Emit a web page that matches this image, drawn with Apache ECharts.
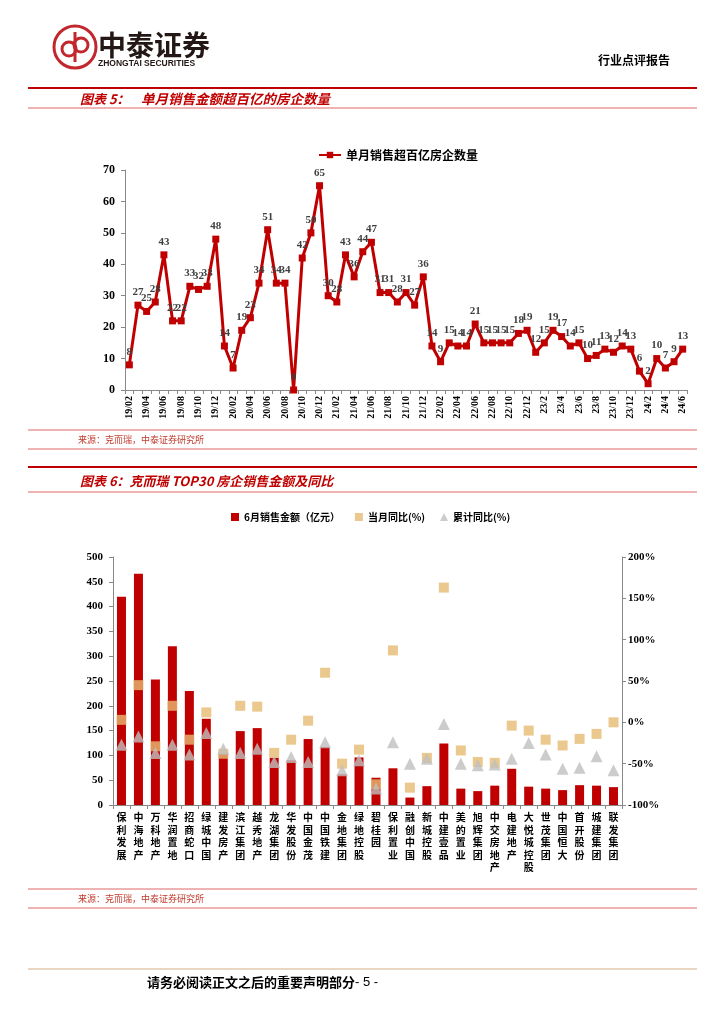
<!DOCTYPE html>
<html><head><meta charset="utf-8">
<script src="https://cdn.jsdelivr.net/npm/echarts@6/dist/echarts.min.js"></script>
<style>html,body{margin:0;padding:0;background:#fff}#c{width:724px;height:1024px}</style>
</head><body><div id="c"></div>
<script>
// ---------- Data: chart 5 ----------
const months = ["19/02","19/03","19/04","19/05","19/06","19/07","19/08","19/09","19/10","19/11","19/12",
"20/01","20/02","20/03","20/04","20/05","20/06","20/07","20/08","20/09","20/10","20/11","20/12",
"21/01","21/02","21/03","21/04","21/05","21/06","21/07","21/08","21/09","21/10","21/11","21/12",
"22/01","22/02","22/03","22/04","22/05","22/06","22/07","22/08","22/09","22/10","22/11","22/12",
"23/1","23/2","23/3","23/4","23/5","23/6","23/7","23/8","23/9","23/10","23/11","23/12",
"24/1","24/2","24/3","24/4","24/5","24/6"];
const countOver100 = [8,27,25,28,43,22,22,33,32,33,48,
14,7,19,23,34,51,34,34,0,42,50,65,
30,28,43,36,44,47,31,31,28,31,27,36,
14,9,15,14,14,21,15,15,15,15,18,19,
12,15,19,17,14,15,10,11,13,12,14,13,
6,2,10,7,9,13];
const seriesName5 = "单月销售超百亿房企数量";

// ---------- Data: chart 6 ----------
const companies = ["保利发展","中海地产","万科地产","华润置地","招商蛇口","绿城中国","建发房产","滨江集团","越秀地产","龙湖集团",
"华发股份","中国金茂","中国铁建","金地集团","绿地控股","碧桂园","保利置业","融创中国","新城控股","中建壹品",
"美的置业","旭辉集团","中交房地产","电建地产","大悦城控股","世茂集团","中国恒大","首开股份","城建集团","联发集团"];
const sales = [420,466,253,320,230,174,103,149,155,95,
90,133,117,62,96,55,74,15,38,124,
33,28,39,73,37,33,30,40,39,36];
const monthYoY = [3,45,-29,20,-21,12,-38,20,19,-37,
-21,2,60,-50,-33,-75,87,-79,-43,163,
-34,-48,-49,-4,-10,-21,-28,-20,-14,0];
const cumYoY = [-27,-17,-37,-27,-39,-13,-32,-37,-32,-48,
-42,-48,-24,-58,-46,-80,-24,-50,-44,-2,
-50,-52,-51,-44,-25,-39,-56,-55,-41,-58];
const names6 = ["6月销售金额（亿元）","当月同比(%)","累计同比(%)"];

const RED = "#C00000", TAN = "#E6BA72", GRAY = "#BFBFBF";
const SERIF = "'Liberation Serif','Times New Roman',serif";
const CJK = "'Noto Sans CJK SC','Noto Sans',sans-serif";
const numFont = {fontFamily: SERIF, fontWeight: "bold", color: "#000"};

const chart = echarts.init(document.getElementById("c"), null, {renderer: "canvas"});

function hline(y, x1, x2, color, w) {
  return {type: "line", shape: {x1: x1, y1: y, x2: x2, y2: y}, style: {stroke: color, lineWidth: w}, silent: true};
}
function txt(x, y, s, font, color) {
  return {type: "text", x: x, y: y, silent: true,
    style: {text: s, font: font, fill: color, textVerticalAlign: "middle"}};
}

const graphics = [
  // logo
  {type: "circle", shape: {cx: 75, cy: 47, r: 21}, style: {fill: "none", stroke: "#C1272D", lineWidth: 3}},
  {type: "circle", shape: {cx: 69, cy: 49, r: 7}, style: {fill: "none", stroke: "#C1272D", lineWidth: 3}},
  {type: "circle", shape: {cx: 81, cy: 45, r: 7}, style: {fill: "none", stroke: "#C1272D", lineWidth: 3}},
  {type: "line", shape: {x1: 75, y1: 32, x2: 75, y2: 62}, style: {stroke: "#C1272D", lineWidth: 3}},
  txt(98, 45, "中泰证券", "bold 28px " + CJK, "#231815"),
  txt(98, 64, "ZHONGTAI SECURITIES", "bold 8.5px 'Liberation Sans',Arial,sans-serif", "#231815"),
  txt(598, 60, "行业点评报告", "bold 12px " + CJK, "#000"),
  // title 5
  hline(88, 28, 697, "#C00000", 2),
  txt(80, 99, "图表 5：", "italic bold 13px " + CJK, "#C00000"),
  txt(141, 99, "单月销售金额超百亿的房企数量", "italic bold 13.5px " + CJK, "#C00000"),
  hline(108, 28, 697, "#E06666", 1),
  // source 5
  hline(430, 28, 697, "#E06666", 1),
  txt(78, 440, "来源：克而瑞，中泰证券研究所", "9px " + CJK, "#C0392B"),
  hline(449, 28, 697, "#E06666", 1),
  // title 6
  hline(467, 28, 697, "#C00000", 2),
  txt(80, 481, "图表 6：克而瑞 TOP30 房企销售金额及同比", "italic bold 13px " + CJK, "#C00000"),
  hline(492, 28, 697, "#E06666", 1),
  // source 6
  hline(889, 28, 697, "#E06666", 1),
  txt(78, 899, "来源：克而瑞，中泰证券研究所", "9px " + CJK, "#C0392B"),
  hline(908, 28, 697, "#E06666", 1),
  // footer
  hline(969, 28, 697, "#E9D6C2", 2),
  txt(147, 982, "请务必阅读正文之后的重要声明部分", "bold 13px " + CJK, "#000"),
  txt(355, 982, "- 5 -", "13px 'Liberation Sans',Arial,sans-serif", "#000")
];

const option = {
  animation: false,
  backgroundColor: "#fff",
  textStyle: {fontFamily: SERIF},
  graphic: graphics,
  legend: [
    {data: [seriesName5], left: 313, top: 144, itemWidth: 22, itemHeight: 8,
     textStyle: {fontFamily: CJK, fontWeight: "bold", fontSize: 12, color: "#000"}},
    {data: [
      {name: names6[0], icon: "rect"},
      {name: names6[1], icon: "rect"},
      {name: names6[2], icon: "triangle"}],
     left: 226, top: 507, itemWidth: 8, itemHeight: 8, itemGap: 15,
     textStyle: {fontFamily: CJK, fontWeight: "bold", fontSize: 10, color: "#000"}}
  ],
  grid: [
    {left: 125, right: 37, top: 170, bottom: 634},
    {left: 113, right: 102, top: 557, bottom: 219}
  ],
  xAxis: [
    {type: "category", gridIndex: 0, data: months, boundaryGap: true,
     axisLine: {lineStyle: {color: "#888", width: 1}},
     axisTick: {show: true, interval: 0, length: 4, lineStyle: {color: "#888"}},
     axisLabel: {interval: 1, rotate: 90, fontSize: 10, margin: 6, fontFamily: SERIF, fontWeight: "bold", color: "#000"}},
    {type: "category", gridIndex: 1, data: companies, boundaryGap: true,
     axisLine: {lineStyle: {color: "#888", width: 1}},
     axisTick: {show: true, interval: 0, length: 4, lineStyle: {color: "#888"}},
     axisLabel: {interval: 0, fontSize: 10, margin: 6, lineHeight: 12.5, fontFamily: CJK, fontWeight: "bold", color: "#000",
       verticalAlign: "top",
       formatter: v => v.split("").join("\n")}}
  ],
  yAxis: [
    {type: "value", gridIndex: 0, min: 0, max: 70, interval: 10,
     splitLine: {show: false},
     axisLine: {show: true, lineStyle: {color: "#888"}},
     axisTick: {show: true, length: 4, lineStyle: {color: "#888"}},
     axisLabel: Object.assign({fontSize: 12, margin: 10}, numFont)},
    {type: "value", gridIndex: 1, min: 0, max: 500, interval: 50,
     splitLine: {show: false},
     axisLine: {show: true, lineStyle: {color: "#888"}},
     axisTick: {show: true, length: 4, lineStyle: {color: "#888"}},
     axisLabel: Object.assign({fontSize: 11, margin: 10}, numFont)},
    {type: "value", gridIndex: 1, position: "right", min: -100, max: 200, interval: 50,
     splitLine: {show: false},
     axisLine: {show: true, lineStyle: {color: "#888"}},
     axisTick: {show: true, length: 4, lineStyle: {color: "#888"}},
     axisLabel: Object.assign({fontSize: 11, margin: 6, formatter: "{value}%"}, numFont)}
  ],
  series: [
    {name: seriesName5, type: "line", xAxisIndex: 0, yAxisIndex: 0, data: countOver100,
     symbol: "rect", symbolSize: 7, showAllSymbol: true,
     lineStyle: {color: RED, width: 3}, itemStyle: {color: RED},
     labelLayout: {hideOverlap: false},
     label: {show: true, position: "top", distance: 4, fontFamily: SERIF, fontWeight: "bold", fontSize: 11, color: "#404040"}},
    {name: names6[0], type: "bar", xAxisIndex: 1, yAxisIndex: 1, data: sales, barWidth: 9,
     itemStyle: {color: RED}},
    {name: names6[1], type: "scatter", xAxisIndex: 1, yAxisIndex: 2, data: monthYoY,
     symbol: "rect", symbolSize: 10, itemStyle: {color: TAN}, z: 3},
    {name: names6[2], type: "scatter", xAxisIndex: 1, yAxisIndex: 2, data: cumYoY,
     symbol: "triangle", symbolSize: 12, itemStyle: {color: GRAY}, z: 4}
  ]
};
chart.setOption(option);
</script>
</body></html>
